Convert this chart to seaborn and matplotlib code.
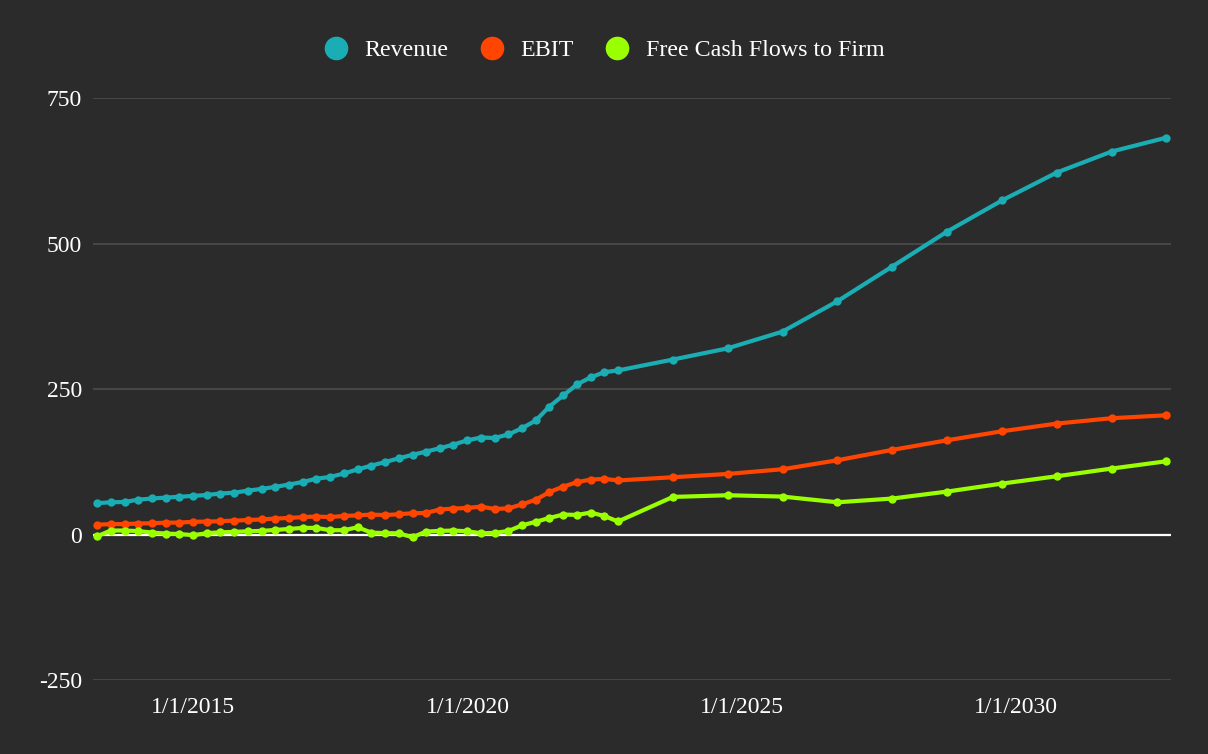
import pandas as pd
import matplotlib
matplotlib.use("Agg")
import matplotlib.pyplot as plt
from matplotlib.lines import Line2D
import seaborn as sns

# quarterly history, then annual projections
quarter_dates = pd.date_range("2013-03-31", periods=39, freq="QE")
annual_dates = pd.date_range("2023-09-30", periods=10, freq="12ME")

revenue_q = [54, 55.5, 56, 60, 62, 63.5, 65, 66.5, 68, 70.5, 72, 75.5, 78.5, 82, 86,
             90.5, 96, 99, 105, 112, 118.5, 124.5, 131, 137, 142.6, 148.3, 154.6, 162,
             166.7, 166, 172, 183, 196, 220, 239, 258, 270, 279, 282]
ebit_q = [17, 18, 18, 19, 19.5, 20.5, 20.6, 22, 22.3, 23, 24, 25, 26, 27.5, 28.6,
          30, 31, 30, 32, 33, 34.4, 33.5, 35, 36.6, 37.2, 43, 44.7, 45.8,
          48, 44, 45, 52, 60, 73, 82.5, 90, 94.5, 95.7, 93]
fcff_q = [-3, 7, 7, 6, 3.5, 1.7, 1, -1, 2.3, 4, 4.6, 5.7, 6.3, 8, 9.7,
          11.5, 11.5, 7.5, 7.5, 12.6, 3.4, 2.5, 2.3, -4.6, 5.2, 6.3, 6.9, 5.7,
          2.3, 2.9, 6.3, 16, 22, 28.6, 34.4, 33.8, 37.8, 32, 22.5]

revenue_a = [300.7, 320, 348.8, 400.9, 460.5, 520.6, 574, 622, 658, 682]
ebit_a = [98.5, 104.2, 112.3, 127.7, 145.5, 162, 177.5, 190.7, 199.9, 205]
fcff_a = [64.7, 67.6, 65.3, 55.5, 61.9, 73.9, 87.6, 100.2, 113.4, 126]

series_names = ["Revenue", "EBIT", "Free Cash Flows to Firm"]
series_colors = ["#1aadb4", "#ff4500", "#9aff00"]
y_ticks = [-250, 0, 250, 500, 750]
x_tick_years = [2015, 2020, 2025, 2030]

dates = list(quarter_dates) + list(annual_dates)
frames = []
for name, q, a in zip(series_names, [revenue_q, ebit_q, fcff_q],
                      [revenue_a, ebit_a, fcff_a]):
    frames.append(pd.DataFrame({"date": dates, "value": q + a, "series": name}))
df = pd.concat(frames, ignore_index=True)

bg = "#2b2b2b"
sns.set_style("dark")
plt.rcParams["font.family"] = ["Liberation Serif", "DejaVu Serif"]
plt.rcParams["axes.unicode_minus"] = False

fig = plt.figure(figsize=(12.08, 7.54), dpi=100, facecolor=bg)
ax = fig.add_axes([0.077, 0.098, 0.892, 0.772], facecolor=bg)

palette = dict(zip(series_names, series_colors))
sns.lineplot(data=df, x="date", y="value", hue="series", palette=palette,
             marker="o", markersize=6, markeredgewidth=0, linewidth=3,
             legend=False, ax=ax, zorder=3)

ax.set_ylim(-250, 750)
ax.set_yticks(y_ticks)
ax.set_xlim(quarter_dates[0] - pd.Timedelta(days=27),
            annual_dates[-1] + pd.Timedelta(days=27))
tick_dates = [pd.Timestamp(year=y, month=1, day=1) for y in x_tick_years]
ax.set_xticks(tick_dates)
ax.set_xticklabels([f"1/1/{y}" for y in x_tick_years])

ax.grid(False)
for y in y_ticks:
    if y != 0:
        ax.axhline(y, color="#4a4a4a", linewidth=1.3, zorder=1)
ax.axhline(0, color="white", linewidth=1.6, zorder=2)

for s in ax.spines.values():
    s.set_visible(False)
ax.tick_params(axis="both", length=0, colors="white", labelsize=17)
ax.tick_params(axis="y", pad=8)
ax.tick_params(axis="x", pad=12)
ax.set_xlabel("")
ax.set_ylabel("")

handles = [Line2D([], [], linestyle="none", marker="o", markersize=17,
                  markerfacecolor=c, markeredgewidth=0) for c in series_colors]
leg = fig.legend(handles, series_names, loc="center", bbox_to_anchor=(0.5, 0.933),
                 ncol=3, frameon=False, fontsize=17.3, handlelength=1.0,
                 handletextpad=0.67, columnspacing=1.33)
for t in leg.get_texts():
    t.set_color("white")

fig.savefig("out.png", dpi=100, facecolor=bg)
